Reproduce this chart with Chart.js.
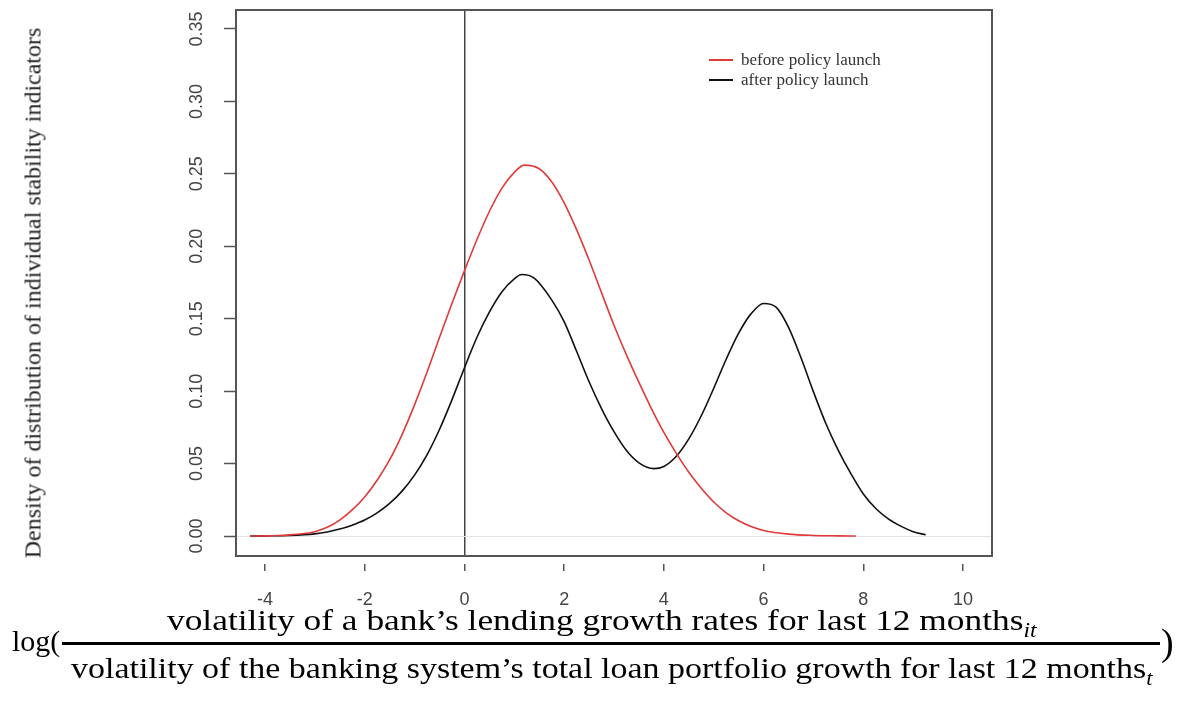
<!DOCTYPE html>
<html>
<head>
<meta charset="utf-8">
<script src="https://cdn.jsdelivr.net/npm/chart.js@4.4.1/dist/chart.umd.min.js"></script>
<style>
  body { margin: 0; background: #fff; }
  #page { position: relative; width: 1179px; height: 706px; overflow: hidden; background: #fff; }
  #chartBox { position: absolute; left: 0; top: 0; width: 1179px; height: 706px; }
  #ytitle { position: absolute; left: 33px; top: 293px; transform: translate(-50%, -50%) rotate(-90deg);
            font-family: "Liberation Serif", serif; font-size: 24px; color: #222; white-space: nowrap; }
  #legend { position: absolute; left: 709px; top: 50px; font-family: "Liberation Serif", serif; font-size: 17px; color: #333; }
  #legend div { height: 20px; line-height: 20px; white-space: nowrap; }
  #legend i { display: inline-block; width: 24px; height: 2px; vertical-align: middle; margin-right: 8px; margin-top: -2px; }
  .mt { position: absolute; font-family: "Liberation Serif", serif; color: #000; white-space: nowrap; line-height: 30px; }
  .fr { font-size: 30px; transform-origin: left top; }
  .fr sub { font-style: italic; font-size: 20px; vertical-align: -7px; }
  #bar { position: absolute; left: 62px; top: 642px; width: 1098px; height: 3px; background: #000; }
</style>
</head>
<body>
<div id="page">
  <div id="chartBox"><canvas id="densityChart" width="1179" height="706"></canvas></div>
  <div id="ytitle">Density of distribution of individual stability indicators</div>
  <div id="legend"></div>
  <div class="mt" id="logp" style="left:12px;top:626px;font-size:30px;">log(</div>
  <div class="mt fr" id="num" data-l="167" data-r="1037" style="top:605px;"><span>volatility of a bank’s lending growth rates for last 12 months</span><sub>it</sub></div>
  <div id="bar"></div>
  <div class="mt fr" id="den" data-l="71" data-r="1152" style="top:653px;"><span>volatility of the banking system’s total loan portfolio growth for last 12 months</span><sub>t</sub></div>
  <div class="mt" id="rp" style="left:1161px;top:622px;font-size:38px;line-height:40px;">)</div>
</div>
<script>
// density before the policy launch (red)
var beforeX = [-4.3, -4.0, -3.75, -3.5, -3.25, -3.0, -2.75, -2.5, -2.25, -2.0, -1.75, -1.5, -1.25, -1.0, -0.75, -0.5, -0.25, 0.0,
               0.25, 0.5, 0.75, 1.0, 1.2, 1.5, 1.75, 2.0, 2.25, 2.5, 2.75, 3.0, 3.25, 3.5, 3.75, 4.0, 4.25, 4.5, 4.75, 5.0,
               5.25, 5.5, 5.75, 6.0, 6.5, 7.0, 7.5, 7.85];
var beforeY = [0.0000, 0.0001, 0.0003, 0.0008, 0.0016, 0.0030, 0.0060, 0.0110, 0.0180, 0.0270, 0.0385, 0.0525, 0.0700, 0.0905, 0.1130, 0.1370, 0.1605, 0.1830,
               0.2045, 0.2240, 0.2400, 0.2510, 0.2560, 0.2535, 0.2445, 0.2300, 0.2115, 0.1905, 0.1680, 0.1455, 0.1250, 0.1060, 0.0880, 0.0715, 0.0570, 0.0440, 0.0330, 0.0235,
               0.0160, 0.0105, 0.0065, 0.0038, 0.0013, 0.0004, 0.0001, 0.0000];

// density after the policy launch (black)
var afterX = [-4.3, -4.0, -3.5, -3.0, -2.75, -2.5, -2.25, -2.0, -1.75, -1.5, -1.25, -1.0, -0.75, -0.5, -0.25, 0.0,
              0.25, 0.5, 0.75, 1.0, 1.15, 1.4, 1.75, 2.0, 2.25, 2.5, 2.75, 3.0, 3.25, 3.5, 3.8, 4.0, 4.25, 4.5, 4.75, 5.0,
              5.25, 5.5, 5.75, 6.0, 6.25, 6.5, 6.75, 7.0, 7.25, 7.5, 7.75, 8.0, 8.25, 8.5, 8.75, 9.0, 9.25];
var afterY = [0.0000, 0.0001, 0.0004, 0.0015, 0.0028, 0.0048, 0.0075, 0.0110, 0.0160, 0.0225, 0.0310, 0.0420, 0.0560, 0.0735, 0.0940, 0.1160,
              0.1370, 0.1545, 0.1685, 0.1775, 0.1805, 0.1780, 0.1630, 0.1480, 0.1275, 0.1065, 0.0880, 0.0720, 0.0590, 0.0505, 0.0465, 0.0480, 0.0550, 0.0670, 0.0830, 0.1020,
              0.1220, 0.1400, 0.1535, 0.1605, 0.1580, 0.1440, 0.1230, 0.0995, 0.0775, 0.0590, 0.0430, 0.0290, 0.0190, 0.0118, 0.0068, 0.0030, 0.0008];

var seriesNames = ["before policy launch", "after policy launch"];
var seriesColors = ["#e03a3a", "#111111"];

var xTicks = [-4, -2, 0, 2, 4, 6, 8, 10];
var yTicks = [0, 0.05, 0.10, 0.15, 0.20, 0.25, 0.30, 0.35];
var xRange = [-4.58, 10.58];
var yRange = [-0.0138, 0.3631];

function toPoints(xs, ys) {
    return xs.map(function (x, i) { return {x: x, y: ys[i]}; });
}

function noPad(s) {
    s.paddingTop = 0; s.paddingBottom = 0; s.paddingLeft = 0; s.paddingRight = 0;
}

// R style box around the plot region
var frame = {
    id: "frame",
    afterDatasetsDraw: function (chart) {
        var a = chart.chartArea, c = chart.ctx;
        c.save();
        c.strokeStyle = "#555";
        c.lineWidth = 2;
        c.strokeRect(a.left, a.top, a.right - a.left, a.bottom - a.top);
        c.restore();
    }
};

var densityChart = new Chart("densityChart", {
    type: "line",
    data: {
        datasets: [{
            label: seriesNames[0],
            data: toPoints(beforeX, beforeY),
            borderColor: seriesColors[0],
            borderWidth: 1.6,
            pointRadius: 0,
            cubicInterpolationMode: "monotone",
            fill: false
        }, {
            label: seriesNames[1],
            data: toPoints(afterX, afterY),
            borderColor: seriesColors[1],
            borderWidth: 1.6,
            pointRadius: 0,
            cubicInterpolationMode: "monotone",
            fill: false
        }]
    },
    options: {
        responsive: false,
        animation: false,
        layout: {padding: {left: 186, right: 187, top: 10, bottom: 90}},
        plugins: {legend: {display: false}, tooltip: {enabled: false}},
        scales: {
            x: {
                type: "linear",
                min: xRange[0],
                max: xRange[1],
                afterBuildTicks: function (s) { s.ticks = xTicks.map(function (v) { return {value: v}; }); },
                afterFit: function (s) { s.height = 60; noPad(s); },
                border: {display: false},
                grid: {
                    drawOnChartArea: true,
                    color: function (ctx) { return ctx.tick && ctx.tick.value === 0 ? "#444" : "rgba(0,0,0,0)"; },
                    lineWidth: 1.5,
                    tickColor: "#555",
                    tickWidth: 1.5,
                    tickLength: 15,
                    tickBorderDash: [0, 8, 7, 100]
                },
                ticks: {
                    color: "#444",
                    font: {family: "Liberation Sans", size: 18},
                    padding: 18,
                    maxRotation: 0,
                    autoSkip: false,
                    callback: function (v) { return String(v); }
                }
            },
            y: {
                min: yRange[0],
                max: yRange[1],
                afterBuildTicks: function (s) { s.ticks = yTicks.map(function (v) { return {value: v}; }); },
                afterFit: function (s) { s.width = 50; noPad(s); },
                border: {display: false},
                grid: {
                    drawOnChartArea: true,
                    color: function (ctx) { return ctx.tick && ctx.tick.value === 0 ? "#e4e4e4" : "rgba(0,0,0,0)"; },
                    lineWidth: 1,
                    tickColor: "#555",
                    tickWidth: 1.5,
                    tickLength: 12
                },
                ticks: {
                    color: "#444",
                    font: {family: "Liberation Sans", size: 18},
                    padding: 9,
                    minRotation: 90,
                    maxRotation: 90,
                    crossAlign: "center",
                    autoSkip: false,
                    callback: function (v) { return v.toFixed(2); }
                }
            }
        }
    },
    plugins: [frame]
});

// legend built from the dataset names
var legend = document.getElementById("legend");
seriesNames.forEach(function (name, i) {
    var row = document.createElement("div");
    row.innerHTML = '<i style="background:' + seriesColors[i] + '"></i>' + name;
    legend.appendChild(row);
});

// stretch the fraction lines to the width they have in the original
document.querySelectorAll(".fr").forEach(function (el) {
    var l = Number(el.dataset.l), r = Number(el.dataset.r);
    el.style.left = l + "px";
    var w = el.offsetWidth;
    el.style.transform = "scaleX(" + ((r - l) / w) + ")";
});
</script>
</body>
</html>
